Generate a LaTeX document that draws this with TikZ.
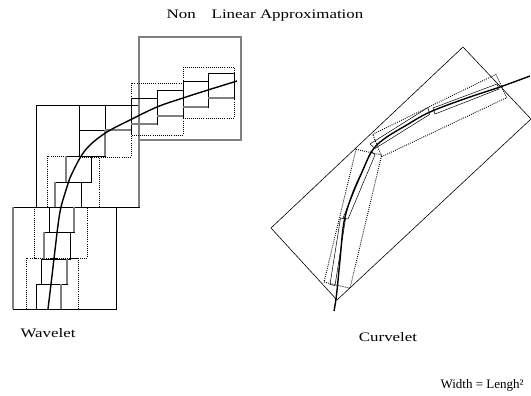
\documentclass[tikz,border=0pt]{standalone}
\usepackage{fontspec}
\setmainfont{Liberation Serif}
\usepackage{graphicx}
\usetikzlibrary{positioning}
\newcommand{\wide}[1]{\scalebox{1.3}[1]{#1}}
\begin{document}
\begin{tikzpicture}[x=1pt,y=-1pt,
  lbl/.style={font=\fontsize{13}{15}\selectfont,inner sep=0pt,anchor=base},
  bigsq/.style={draw=black,line width=0.6pt},
  midsq/.style={draw=black,line width=0.9pt,dash pattern=on 0.9pt off 1.2pt},
  smallsq/.style={draw=black,line width=0.7pt},
  shade/.style={draw=black!50,line width=1.1pt},
  needle/.style={draw=black,line width=0.5pt},
  curve/.style={draw=black,line width=1.4pt},
]
\useasboundingbox (0,0) rectangle (531,396);
% title and labels
\node[lbl] (title) at (265,19) {\wide{Non\hspace{9pt} Linear Approximation}};
\node[lbl] (wav) at (48,337) {\wide{Wavelet}};
\node[lbl] (cur) at (388,341) {\wide{Curvelet}};
\node[lbl] (rule) at (482,388) {Width = Lengh²};
% wavelet: coarse squares
\draw[bigsq] (13,207) rectangle (116,309);
\draw[bigsq] (36,105) rectangle (139,207);
\draw[shade] (139,37) rectangle (241,140);
\draw[shade] (13,207) -- (13,309);
\draw[shade] (139,105) -- (139,207);
% wavelet: medium squares
\foreach \xa/\ya/\xb/\yb in {26/258/78/309, 34/207/87/258, 47/156/99/207,
    79/105/131/157, 131/83/183/135, 183/67/234/118}
  \draw[midsq] (\xa,\ya) rectangle (\xb,\yb);
% wavelet: fine squares along the edge
\foreach \xa/\ya/\xb/\yb in {36/284/61/309, 41/259/67/284, 44/232/70/259,
    49/207/74/232, 55/182/81/207, 66/156/91/182, 79/130/105/156, 79/105/105/130,
    105/105/131/130, 131/98/157/124, 157/90/183/116, 183/81/208/107, 208/73/234/98}
  \draw[smallsq] (\xa,\ya) rectangle (\xb,\yb);
% grey sides of the fine squares
\foreach \xa/\ya/\xb/\yb in {61/284/61/309, 67/259/67/284, 44/232/44/259,
    74/207/74/232, 55/182/55/207, 66/156/66/182, 105/130/105/156,
    105/130/131/130, 131/124/157/124, 157/116/183/116, 183/107/208/107, 208/98/234/98}
  \draw[shade] (\xa,\ya) -- (\xb,\yb);
\draw[curve] plot[smooth,tension=0.6] coordinates {(48,309) (51.5,280) (55,250) (58.3,223)
  (61,207) (66,190) (69.5,179) (80,158) (90,145) (107,132) (130,120) (157,107)
  (183,98) (208,90) (237,81)};
% curvelet: coarse box
\draw[bigsq] (463,47) -- (531,119) -- (337,300) -- (271,228) -- cycle;
% curvelet: medium boxes
\draw[midsq] (356,149.3) -- (381.7,155) -- (350,288.3) -- (324,282) -- cycle;
\draw[midsq] (372.7,134.3) -- (496,74.3) -- (506.7,97.7) -- (381.7,156.7) -- cycle;
% curvelet: needles
\draw[needle] (340.5,218) -- (345.5,219) -- (335,285.5) -- (330,284.5) -- cycle;
\draw[needle] (371,151) -- (375,155) -- (348,219) -- (343,218) -- cycle;
\draw[needle] (370,144) -- (428,107.5) -- (429.5,114.5) -- (375,148.5) -- cycle;
\draw[needle] (433,108) -- (497,84) -- (499,89) -- (435,114) -- cycle;
\draw[curve] plot[smooth,tension=0.6] coordinates {(334,311) (336.5,295) (340,260)
  (344,222) (352,195) (362,172) (372,151) (384,139) (405,126) (430,112)
  (467,98) (500,87) (530,76)};
\end{tikzpicture}
\end{document}
